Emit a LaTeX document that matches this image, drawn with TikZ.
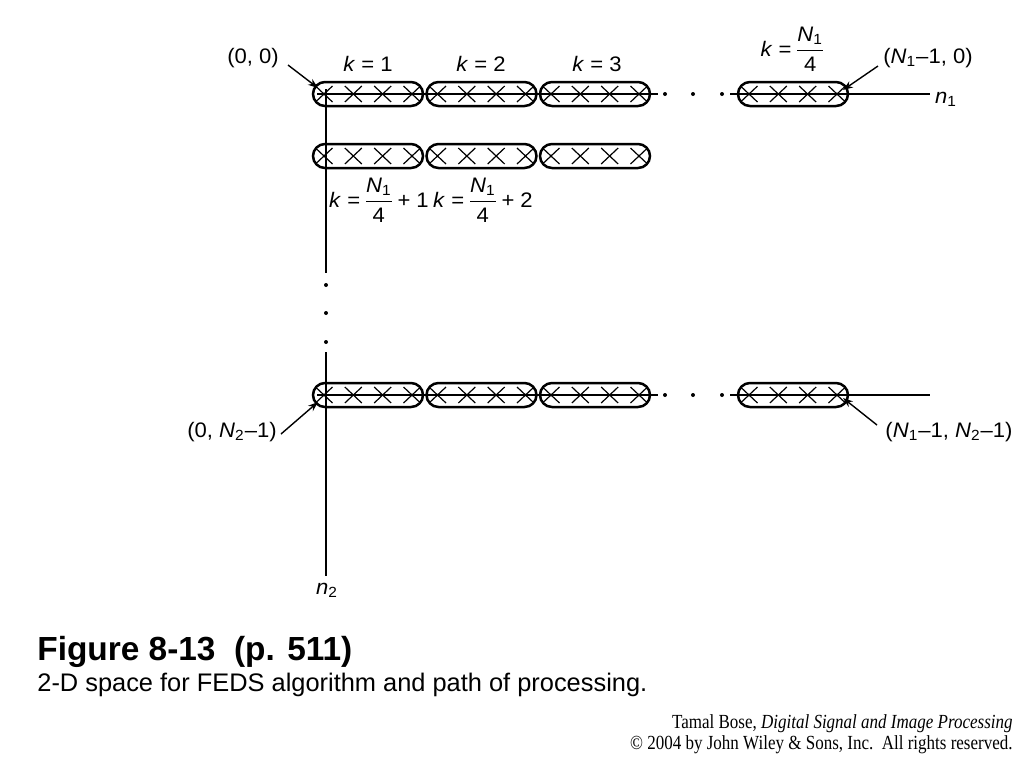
\documentclass[tikz,border=0pt]{standalone}
\usepackage{fontspec}
\setmainfont{Liberation Sans}
\newfontfamily\lab[FakeStretch=1.05]{Liberation Sans}
\newfontfamily\cpy[FakeStretch=0.85]{Liberation Serif}
\usetikzlibrary{arrows.meta}
\newcommand\Nfrac{{\displaystyle\frac{\mbox{\textit{N}\textsubscript{1}}}{\mbox{4}}}}
\tikzset{
  pill/.style={draw, line width=1.25pt, rounded corners=6pt, minimum width=55pt, minimum height=12pt, inner sep=0pt},
  xline/.style={line width=0.6pt},
  axis/.style={line width=1.1pt},
  arr/.style={-{Stealth[length=5pt,width=3.6pt]}, line width=0.7pt},
  lbl/.style={font=\lab\fontsize{10.5}{12}\selectfont, inner sep=1pt},
  crosses/.pic={
    \foreach \dx in {-44,-14.67,14.67,44}
      \draw[xline] (\dx-8.5,-8) -- (\dx+8.5,8) (\dx-8.5,8) -- (\dx+8.5,-8);
  }
}
\begin{document}
\begin{tikzpicture}[x=0.5pt,y=-0.5pt]
\useasboundingbox (0,0) rectangle (1024,768);

% axes
\coordinate (h1a) at (317,94);  \coordinate (h1b) at (658,94);
\coordinate (h1c) at (730,94);  \coordinate (h1d) at (930,94);
\coordinate (h3a) at (317,395); \coordinate (h3b) at (658,395);
\coordinate (h3c) at (730,395); \coordinate (h3d) at (930,395);
\coordinate (v1a) at (326,89);  \coordinate (v1b) at (326,273);
\coordinate (v2a) at (326,352); \coordinate (v2b) at (326,576);
\draw[axis] (h1a) -- (h1b) (h1c) -- (h1d);
\draw[axis] (h3a) -- (h3b) (h3c) -- (h3d);
\draw[axis] (v1a) -- (v1b) (v2a) -- (v2b);

% dots
\foreach \x in {665,693,722} {
  \fill (\x,94) circle (1pt);
  \fill (\x,395) circle (1pt);
}
\foreach \y in {285,313,342} \fill (326,\y) circle (1pt);

% pills row 1
\node[pill] (p11) at (368,94) {};
\node[pill] (p12) at (481.5,94) {};
\node[pill] (p13) at (595,94) {};
\node[pill] (p14) at (793,94) {};
% row 2
\node[pill] (p21) at (368,156) {};
\node[pill] (p22) at (481.5,156) {};
\node[pill] (p23) at (595,156) {};
% row 3
\node[pill] (p31) at (368,395) {};
\node[pill] (p32) at (481.5,395) {};
\node[pill] (p33) at (595,395) {};
\node[pill] (p34) at (793,395) {};
\foreach \p in {p11,p12,p13,p14,p21,p22,p23,p31,p32,p33,p34}
  \pic at (\p.center) {crosses};

% labels
\node[lbl] (l00) at (253,58) {(0, 0)};
\node[lbl] (k1) at (368,64) {\textit{k} = 1};
\node[lbl] (k2) at (481,64) {\textit{k} = 2};
\node[lbl] (k3) at (597,64) {\textit{k} = 3};
\node[lbl] (kN) at (793,49) {$\mbox{\textit{k} =\,}\Nfrac$};
\node[lbl] (lN0) at (928,58) {(\textit{N}\textsubscript{1}–1, 0)};
\node[lbl] (n1) at (946,99) {\textit{n}\textsubscript{1}};
\node[lbl] (kN1) at (379,200) {$\mbox{\textit{k} =\,}\Nfrac\mbox{\,+ 1}$};
\node[lbl] (kN2) at (483,200) {$\mbox{\textit{k} =\,}\Nfrac\mbox{\,+ 2}$};
\node[lbl] (l0N) at (232,432) {(0, \textit{N}\textsubscript{2}–1)};
\node[lbl] (lNN) at (949,432) {(\textit{N}\textsubscript{1}–1, \textit{N}\textsubscript{2}–1)};
\node[lbl] (n2) at (327,590) {\textit{n}\textsubscript{2}};

% arrows
\coordinate (a1s) at (288,65);  \coordinate (a1t) at (318,88);
\coordinate (a2s) at (878,66);  \coordinate (a2t) at (843,90);
\coordinate (a3s) at (281,434); \coordinate (a3t) at (318,402);
\coordinate (a4s) at (877,425); \coordinate (a4t) at (843,398);
\draw[arr] (a1s) -- (a1t);
\draw[arr] (a2s) -- (a2t);
\draw[arr] (a3s) -- (a3t);
\draw[arr] (a4s) -- (a4t);

% caption
\node[anchor=base west, inner sep=0pt, font=\bfseries\fontsize{16.7}{20}\selectfont] (title) at (37,660) {Figure 8-13\ \ (p. 511)};
\node[anchor=base west, inner sep=0pt, font=\fontsize{12.7}{15}\selectfont] (sub) at (37,691) {2-D space for FEDS algorithm and path of processing.};
\node[anchor=base east, inner sep=0pt, font=\cpy\fontsize{10}{12}\selectfont] (c1) at (1013,728) {Tamal Bose, \textit{Digital Signal and Image Processing}};
\node[anchor=base east, inner sep=0pt, font=\cpy\fontsize{10}{12}\selectfont] (c2) at (1013,749) {© 2004 by John Wiley \& Sons, Inc.\ \ All rights reserved.};
\end{tikzpicture}
\end{document}
